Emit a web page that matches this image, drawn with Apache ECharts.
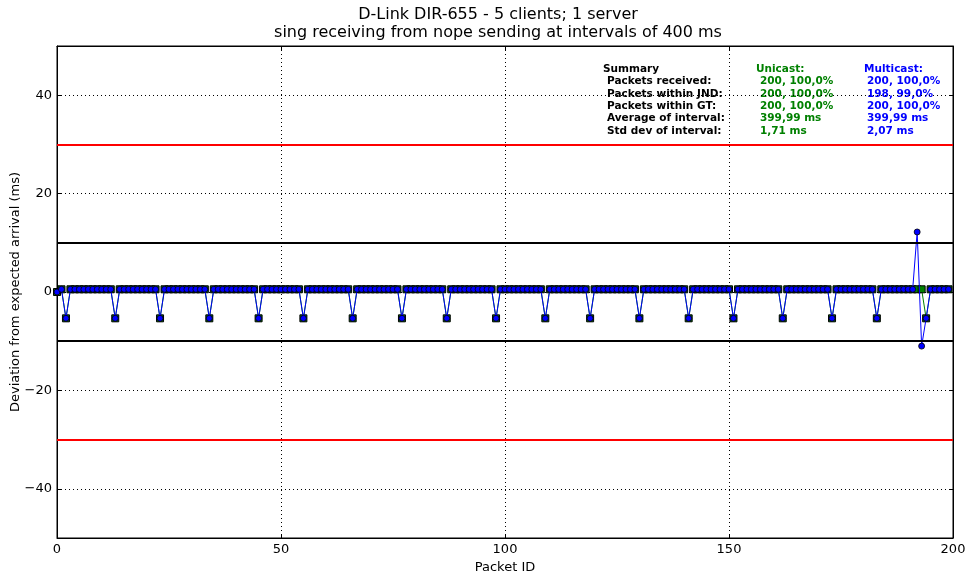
<!DOCTYPE html>
<html>
<head>
<meta charset="utf-8">
<script src="https://cdn.jsdelivr.net/npm/echarts@6/dist/echarts.min.js"></script>
<style>
html,body{margin:0;padding:0;background:#fff;}
#chart{width:967px;height:571px;}
</style>
</head>
<body>
<div id="chart"></div>
<script>
// ---- Data ----
const titleLines = ['D-Link DIR-655 - 5 clients; 1 server', 'sing receiving from nope sending at intervals of 400 ms'];
const xLabel = 'Packet ID';
const yLabel = 'Deviation from expected arrival (ms)';
const yTicks = [-40, -20, 0, 20, 40];
const xTicks = [0, 50, 100, 150, 200];
const refRed = [30, -30];
const refBlack = [10, -10];

// Packet IDs 0..199
const packetIds = [
  0,1,2,3,4,5,6,7,8,9, 10,11,12,13,14,15,16,17,18,19,
  20,21,22,23,24,25,26,27,28,29, 30,31,32,33,34,35,36,37,38,39,
  40,41,42,43,44,45,46,47,48,49, 50,51,52,53,54,55,56,57,58,59,
  60,61,62,63,64,65,66,67,68,69, 70,71,72,73,74,75,76,77,78,79,
  80,81,82,83,84,85,86,87,88,89, 90,91,92,93,94,95,96,97,98,99,
  100,101,102,103,104,105,106,107,108,109, 110,111,112,113,114,115,116,117,118,119,
  120,121,122,123,124,125,126,127,128,129, 130,131,132,133,134,135,136,137,138,139,
  140,141,142,143,144,145,146,147,148,149, 150,151,152,153,154,155,156,157,158,159,
  160,161,162,163,164,165,166,167,168,169, 170,171,172,173,174,175,176,177,178,179,
  180,181,182,183,184,185,186,187,188,189, 190,191,192,193,194,195,196,197,198,199
];

const unicast = [
  0.0,0.55,-5.35,0.55,0.55,0.55,0.55,0.55,0.55,0.55,
  0.55,0.55,0.55,-5.35,0.55,0.55,0.55,0.55,0.55,0.55,
  0.55,0.55,0.55,-5.35,0.55,0.55,0.55,0.55,0.55,0.55,
  0.55,0.55,0.55,0.55,-5.35,0.55,0.55,0.55,0.55,0.55,
  0.55,0.55,0.55,0.55,0.55,-5.35,0.55,0.55,0.55,0.55,
  0.55,0.55,0.55,0.55,0.55,-5.35,0.55,0.55,0.55,0.55,
  0.55,0.55,0.55,0.55,0.55,0.55,-5.35,0.55,0.55,0.55,
  0.55,0.55,0.55,0.55,0.55,0.55,0.55,-5.35,0.55,0.55,
  0.55,0.55,0.55,0.55,0.55,0.55,0.55,-5.35,0.55,0.55,
  0.55,0.55,0.55,0.55,0.55,0.55,0.55,0.55,-5.35,0.55,
  0.55,0.55,0.55,0.55,0.55,0.55,0.55,0.55,0.55,-5.35,
  0.55,0.55,0.55,0.55,0.55,0.55,0.55,0.55,0.55,-5.35,
  0.55,0.55,0.55,0.55,0.55,0.55,0.55,0.55,0.55,0.55,
  -5.35,0.55,0.55,0.55,0.55,0.55,0.55,0.55,0.55,0.55,
  0.55,-5.35,0.55,0.55,0.55,0.55,0.55,0.55,0.55,0.55,
  0.55,-5.35,0.55,0.55,0.55,0.55,0.55,0.55,0.55,0.55,
  0.55,0.55,-5.35,0.55,0.55,0.55,0.55,0.55,0.55,0.55,
  0.55,0.55,0.55,-5.35,0.55,0.55,0.55,0.55,0.55,0.55,
  0.55,0.55,0.55,-5.35,0.55,0.55,0.55,0.55,0.55,0.55,
  0.55,0.55,0.55,0.55,-5.35,0.55,0.55,0.55,0.55,0.55
];

const multicast = [
  0.0,0.55,-5.35,0.55,0.55,0.55,0.55,0.55,0.55,0.55,
  0.55,0.55,0.55,-5.35,0.55,0.55,0.55,0.55,0.55,0.55,
  0.55,0.55,0.55,-5.35,0.55,0.55,0.55,0.55,0.55,0.55,
  0.55,0.55,0.55,0.55,-5.35,0.55,0.55,0.55,0.55,0.55,
  0.55,0.55,0.55,0.55,0.55,-5.35,0.55,0.55,0.55,0.55,
  0.55,0.55,0.55,0.55,0.55,-5.35,0.55,0.55,0.55,0.55,
  0.55,0.55,0.55,0.55,0.55,0.55,-5.35,0.55,0.55,0.55,
  0.55,0.55,0.55,0.55,0.55,0.55,0.55,-5.35,0.55,0.55,
  0.55,0.55,0.55,0.55,0.55,0.55,0.55,-5.35,0.55,0.55,
  0.55,0.55,0.55,0.55,0.55,0.55,0.55,0.55,-5.35,0.55,
  0.55,0.55,0.55,0.55,0.55,0.55,0.55,0.55,0.55,-5.35,
  0.55,0.55,0.55,0.55,0.55,0.55,0.55,0.55,0.55,-5.35,
  0.55,0.55,0.55,0.55,0.55,0.55,0.55,0.55,0.55,0.55,
  -5.35,0.55,0.55,0.55,0.55,0.55,0.55,0.55,0.55,0.55,
  0.55,-5.35,0.55,0.55,0.55,0.55,0.55,0.55,0.55,0.55,
  0.55,-5.35,0.55,0.55,0.55,0.55,0.55,0.55,0.55,0.55,
  0.55,0.55,-5.35,0.55,0.55,0.55,0.55,0.55,0.55,0.55,
  0.55,0.55,0.55,-5.35,0.55,0.55,0.55,0.55,0.55,0.55,
  0.55,0.55,0.55,-5.35,0.55,0.55,0.55,0.55,0.55,0.55,
  0.55,0.55,12.2,-11.0,-5.35,0.55,0.55,0.55,0.55,0.55
];

const summaryLabels = ['Packets received:', 'Packets within JND:', 'Packets within GT:', 'Average of interval:', 'Std dev of interval:'];
const unicastSummary = ['200, 100,0%', '200, 100,0%', '200, 100,0%', '399,99 ms', '1,71 ms'];
const multicastSummary = ['200, 100,0%', '198, 99,0%', '200, 100,0%', '399,99 ms', '2,07 ms'];

// ---- Chart ----
const chart = echarts.init(document.getElementById('chart'), null, {renderer: 'canvas'});
const FONT = 'DejaVu Sans';
const minus = v => String(v).replace('-', '\u2212');

const unicastData = packetIds.map((id, i) => [id, unicast[i]]);
const multicastData = packetIds.map((id, i) => [id, multicast[i]]);

const textEls = [];
const SF = 'bold 10.5px "DejaVu Sans"';
textEls.push({type:'text', left: 603, top: 64, style:{text:'Summary', fill:'#000', font:SF}});
textEls.push({type:'text', left: 756, top: 64, style:{text:'Unicast:', fill:'#008000', font:SF}});
textEls.push({type:'text', left: 864, top: 64, style:{text:'Multicast:', fill:'#0000ff', font:SF}});
const rowY = [76, 88.5, 101, 113, 125.5];
summaryLabels.forEach((t, i) => {
  textEls.push({type:'text', left: 607, top: rowY[i], style:{text:t, fill:'#000', font:SF}});
  textEls.push({type:'text', left: 760, top: rowY[i], style:{text:unicastSummary[i], fill:'#008000', font:SF}});
  textEls.push({type:'text', left: 867, top: rowY[i], style:{text:multicastSummary[i], fill:'#0000ff', font:SF}});
});
textEls.push({type:'text', x: 498, y: 7, style:{text:titleLines[0], fill:'#000', font:'16px "DejaVu Sans"', align:'center'}});
textEls.push({type:'text', x: 498, y: 25, style:{text:titleLines[1], fill:'#000', font:'16px "DejaVu Sans"', align:'center'}});

const refLines = [];
refRed.forEach(v => refLines.push({yAxis: v, lineStyle:{color:'#ff0000', width:2, type:'solid'}}));
refBlack.forEach(v => refLines.push({yAxis: v, lineStyle:{color:'#000000', width:2, type:'solid'}}));

const option = {
  animation: false,
  backgroundColor: '#fff',
  textStyle: {fontFamily: FONT},
  grid: {left: 57, right: 14, top: 46, bottom: 33, containLabel: false, outerBoundsMode: 'none',
         show: true, borderColor: '#000', borderWidth: 1, backgroundColor: 'transparent'},
  xAxis: [{
    type: 'value', min: 0, max: 200, interval: 50,
    name: xLabel, nameLocation: 'middle', nameGap: 17,
    nameTextStyle: {color: '#000', fontSize: 13, fontFamily: FONT},
    axisLine: {show: true, onZero: false, lineStyle: {color: '#000', width: 1}},
    axisTick: {show: true, inside: true, length: 4, lineStyle: {color: '#000'}},
    axisLabel: {color: '#000', fontSize: 13, fontFamily: FONT, margin: 5},
    splitLine: {show: true, lineStyle: {color: '#000', type: [1, 3], width: 1}}
  }, {
    type: 'value', min: 0, max: 200, interval: 50, position: 'top',
    axisLine: {show: true, onZero: false, lineStyle: {color: '#000'}},
    axisTick: {show: true, inside: true, length: 4, lineStyle: {color: '#000'}},
    axisLabel: {show: false}, splitLine: {show: false}
  }],
  yAxis: [{
    type: 'value', min: -50, max: 50,
    name: yLabel, nameLocation: 'middle', nameGap: 35, nameMoveOverlap: false,
    nameTextStyle: {color: '#000', fontSize: 13, fontFamily: FONT},
    axisLine: {show: true, onZero: false, lineStyle: {color: '#000', width: 1}},
    axisTick: {show: true, inside: true, length: 4, customValues: yTicks, lineStyle: {color: '#000'}},
    axisLabel: {color: '#000', fontSize: 13, fontFamily: FONT, margin: 5, customValues: yTicks, formatter: minus},
    splitLine: {show: true, lineStyle: {color: '#000', type: [1, 3], width: 1}}
  }, {
    type: 'value', min: -50, max: 50, position: 'right',
    axisLine: {show: true, onZero: false, lineStyle: {color: '#000'}},
    axisTick: {show: true, inside: true, length: 4, customValues: yTicks, lineStyle: {color: '#000'}},
    axisLabel: {show: false}, splitLine: {show: false}
  }],
  graphic: textEls,
  series: [{
    name: 'refs', type: 'line', data: [], z: 1, silent: true,
    markLine: {silent: true, symbol: 'none', label: {show: false}, data: refLines, animation: false}
  }, {
    name: 'Unicast', type: 'line', data: unicastData, z: 3,
    symbol: 'rect', symbolSize: 7, showAllSymbol: true,
    itemStyle: {color: '#008000', borderColor: '#000', borderWidth: 1},
    lineStyle: {color: '#008000', width: 1}
  }, {
    name: 'Multicast', type: 'line', data: multicastData, z: 4,
    symbol: 'circle', symbolSize: 6, showAllSymbol: true,
    itemStyle: {color: '#0000ff', borderColor: '#000', borderWidth: 0.8},
    lineStyle: {color: '#0000ff', width: 1}
  }]
};
chart.setOption(option);
</script>
</body>
</html>
